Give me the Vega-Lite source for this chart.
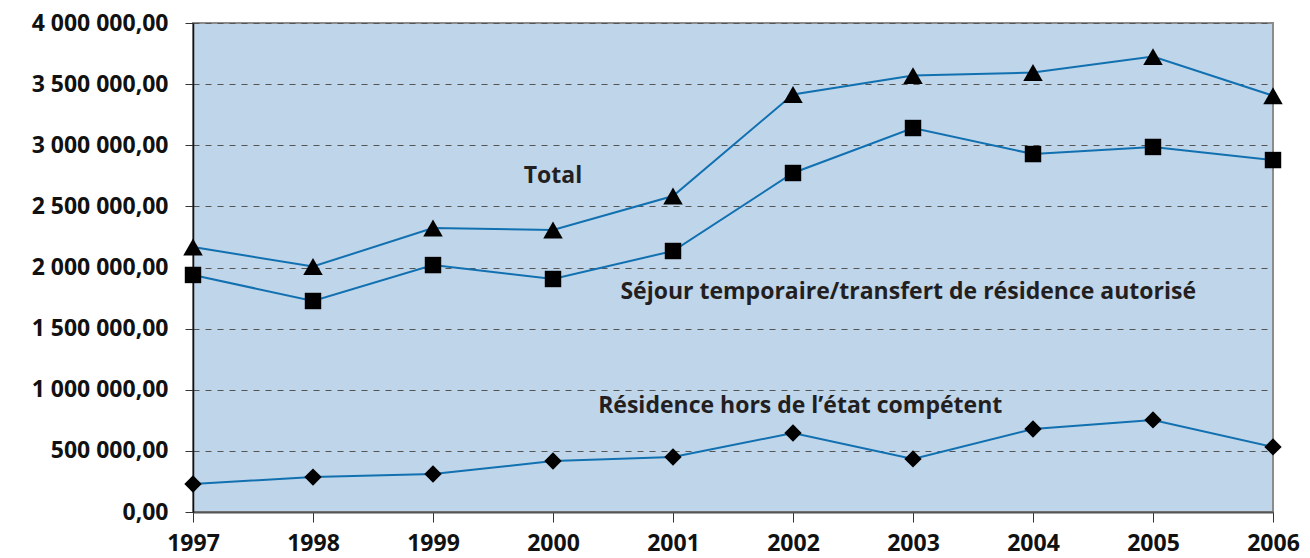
{
  "$schema": "https://vega.github.io/schema/vega-lite/v6.json",
  "autosize": {"type": "none"},
  "width": 1080,
  "height": 489,
  "padding": {"left": 193, "top": 23, "right": 37, "bottom": 46},
  "background": "white",
  "config": {
    "locale": {"number": {"decimal": ",", "thousands": " ", "grouping": [3], "currency": ["", " €"]}},
    "view": {"fill": "#BFD5EA", "stroke": "#8c8c8c", "strokeWidth": 2},
    "font": "Open Sans"
  },
  "datasets": {
    "series": [
      {"year": 1997, "serie": "Total", "value": 2168000},
      {"year": 1998, "serie": "Total", "value": 2008000},
      {"year": 1999, "serie": "Total", "value": 2323000},
      {"year": 2000, "serie": "Total", "value": 2307000},
      {"year": 2001, "serie": "Total", "value": 2585000},
      {"year": 2002, "serie": "Total", "value": 3415000},
      {"year": 2003, "serie": "Total", "value": 3570000},
      {"year": 2004, "serie": "Total", "value": 3595000},
      {"year": 2005, "serie": "Total", "value": 3725000},
      {"year": 2006, "serie": "Total", "value": 3405000},
      {"year": 1997, "serie": "Séjour", "value": 1939000},
      {"year": 1998, "serie": "Séjour", "value": 1726000},
      {"year": 1999, "serie": "Séjour", "value": 2020000},
      {"year": 2000, "serie": "Séjour", "value": 1906000},
      {"year": 2001, "serie": "Séjour", "value": 2135000},
      {"year": 2002, "serie": "Séjour", "value": 2773000},
      {"year": 2003, "serie": "Séjour", "value": 3141000},
      {"year": 2004, "serie": "Séjour", "value": 2928000},
      {"year": 2005, "serie": "Séjour", "value": 2986000},
      {"year": 2006, "serie": "Séjour", "value": 2879000},
      {"year": 1997, "serie": "Résidence", "value": 229000},
      {"year": 1998, "serie": "Résidence", "value": 286000},
      {"year": 1999, "serie": "Résidence", "value": 311000},
      {"year": 2000, "serie": "Résidence", "value": 417000},
      {"year": 2001, "serie": "Résidence", "value": 450000},
      {"year": 2002, "serie": "Résidence", "value": 646000},
      {"year": 2003, "serie": "Résidence", "value": 434000},
      {"year": 2004, "serie": "Résidence", "value": 679000},
      {"year": 2005, "serie": "Résidence", "value": 753000},
      {"year": 2006, "serie": "Résidence", "value": 532000}
    ],
    "labels": [
      {"x": 2000.0, "y": 2748000, "text": "Total"},
      {"x": 2002.96, "y": 1800000, "text": "Séjour temporaire/transfert de résidence autorisé"},
      {"x": 2002.06, "y": 867000, "text": "Résidence hors de l’état compétent"}
    ]
  },
  "layer": [
    {
      "data": {"name": "series"},
      "mark": {"type": "line", "color": "#1170B0", "strokeWidth": 2},
      "encoding": {
        "x": {
          "field": "year", "type": "quantitative",
          "scale": {"domain": [1997, 2006], "nice": false, "zero": false},
          "axis": {
            "values": [1997, 1998, 1999, 2000, 2001, 2002, 2003, 2004, 2005, 2006],
            "format": "d", "title": null, "grid": false,
            "labelFont": "Open Sans", "labelFontWeight": "bold", "labelFontSize": 23, "labelColor": "#111",
            "labelPadding": 10, "tickSize": 10, "tickColor": "#333", "domainColor": "#555", "domainWidth": 2,
            "labelFlush": false
          }
        },
        "y": {
          "field": "value", "type": "quantitative",
          "scale": {"domain": [0, 4000000], "nice": false},
          "axis": {
            "values": [0, 500000, 1000000, 1500000, 2000000, 2500000, 3000000, 3500000, 4000000],
            "format": ",.2f", "title": null,
            "grid": true, "gridDash": [6, 6], "gridColor": "#555", "gridWidth": 1.2,
            "labelFont": "Open Sans", "labelFontWeight": "bold", "labelFontSize": 23, "labelColor": "#111",
            "labelPadding": 17, "tickSize": 8, "tickColor": "#333", "domainColor": "#111", "domainWidth": 1.5
          }
        },
        "detail": {"field": "serie"}
      }
    },
    {
      "data": {"name": "series"},
      "transform": [{"filter": "datum.serie === 'Total'"}],
      "mark": {"type": "point", "filled": true, "color": "black", "opacity": 1, "shape": "triangle-up", "size": 380},
      "encoding": {
        "x": {"field": "year", "type": "quantitative"},
        "y": {"field": "value", "type": "quantitative"}
      }
    },
    {
      "data": {"name": "series"},
      "transform": [{"filter": "datum.serie === 'Séjour'"}],
      "mark": {"type": "point", "filled": true, "color": "black", "opacity": 1, "shape": "square", "size": 270},
      "encoding": {
        "x": {"field": "year", "type": "quantitative"},
        "y": {"field": "value", "type": "quantitative"}
      }
    },
    {
      "data": {"name": "series"},
      "transform": [{"filter": "datum.serie === 'Résidence'"}],
      "mark": {"type": "point", "filled": true, "color": "black", "opacity": 1, "shape": "diamond", "size": 300},
      "encoding": {
        "x": {"field": "year", "type": "quantitative"},
        "y": {"field": "value", "type": "quantitative"}
      }
    },
    {
      "data": {"name": "labels"},
      "mark": {"type": "text", "font": "Open Sans", "fontWeight": "bold", "fontSize": 23, "color": "#231F20", "align": "center", "baseline": "middle"},
      "encoding": {
        "x": {"field": "x", "type": "quantitative"},
        "y": {"field": "y", "type": "quantitative"},
        "text": {"field": "text"}
      }
    }
  ]
}
